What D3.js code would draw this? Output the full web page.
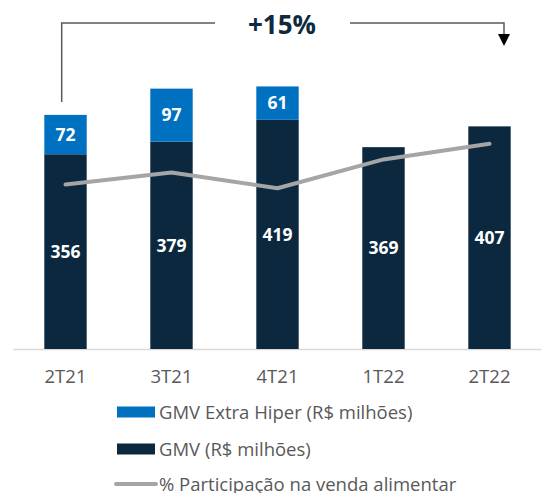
<!DOCTYPE html>
<html>
<head>
<meta charset="utf-8">
<script src="https://cdn.jsdelivr.net/npm/d3@7"></script>
<style>
  body { margin: 0; background: #fff; }
  svg { display: block; font-family: "Open Sans", sans-serif; }
</style>
</head>
<body>
<div id="chart"></div>
<script>
// quarters and values
var quarters = ["2T21", "3T21", "4T21", "1T22", "2T22"];
var gmv = [356, 379, 419, 369, 407];
var gmvExtra = [72, 97, 61, 0, 0];
var participacao = [13.7, 14.7, 13.4, 15.8, 17.1]; // % (no labels in source)
var legendLabels = ["GMV Extra Hiper (R$ milhões)", "GMV (R$ milhões)", "% Participação na venda alimentar"];
var growthLabel = "+15%";

var width = 541, height = 493;
var baseY = 349;

var svg = d3.select("#chart")
  .append("svg")
  .attr("width", width)
  .attr("height", height);

svg.append("rect").attr("width", width).attr("height", height).attr("fill", "#fff");

var x = d3.scaleBand()
  .domain(quarters)
  .range([12.5, 542.5])
  .paddingInner(0.6)
  .paddingOuter(0.3);

var y = d3.scaleLinear()
  .domain([0, 600])
  .range([baseY, baseY - 600 * 0.547]);

// secondary scale for the share line
var y2 = d3.scaleLinear()
  .domain([0, 25])
  .range([baseY, baseY - 300]);

var rows = quarters.map(function (q, i) {
  return { q: q, gmv: gmv[i], extra: gmvExtra[i], share: participacao[i] };
});

// axis
var xAxis = svg.append("g")
  .attr("transform", "translate(0," + baseY + ")")
  .call(d3.axisBottom(x).tickSize(0).tickPadding(21));
xAxis.select(".domain").attr("stroke", "#d9d9d9").attr("stroke-width", 1.5);
xAxis.selectAll("text")
  .attr("fill", "#595959")
  .style("font-family", "'Open Sans', sans-serif")
  .style("font-size", "18.5px");

// dark bars
svg.selectAll("rect.gmv")
  .data(rows)
  .enter()
  .append("rect")
  .attr("class", "gmv")
  .attr("x", function (d) { return x(d.q); })
  .attr("y", function (d) { return y(d.gmv); })
  .attr("width", x.bandwidth())
  .attr("height", function (d) { return y(0) - y(d.gmv); })
  .attr("fill", "#0b283f");

// blue stacked part
svg.selectAll("rect.extra")
  .data(rows.filter(function (d) { return d.extra > 0; }))
  .enter()
  .append("rect")
  .attr("class", "extra")
  .attr("x", function (d) { return x(d.q); })
  .attr("y", function (d) { return y(d.gmv + d.extra); })
  .attr("width", x.bandwidth())
  .attr("height", function (d) { return y(d.gmv) - y(d.gmv + d.extra); })
  .attr("fill", "#0070c0");

// share line
var line = d3.line()
  .x(function (d) { return x(d.q) + x.bandwidth() / 2; })
  .y(function (d) { return y2(d.share); });

svg.append("path")
  .datum(rows)
  .attr("d", line)
  .attr("fill", "none")
  .attr("stroke", "#a5a5a5")
  .attr("stroke-width", 4)
  .attr("stroke-linecap", "round")
  .attr("stroke-linejoin", "round");

// value labels
svg.selectAll("text.gmvLabel")
  .data(rows)
  .enter()
  .append("text")
  .attr("x", function (d) { return x(d.q) + x.bandwidth() / 2; })
  .attr("y", function (d) { return (y(0) + y(d.gmv)) / 2; })
  .attr("dy", "0.36em")
  .attr("text-anchor", "middle")
  .attr("fill", "#fff")
  .style("font-weight", "bold")
  .style("font-size", "17.5px")
  .text(function (d) { return d.gmv; });

svg.selectAll("text.extraLabel")
  .data(rows.filter(function (d) { return d.extra > 0; }))
  .enter()
  .append("text")
  .attr("x", function (d) { return x(d.q) + x.bandwidth() / 2; })
  .attr("y", function (d) { return (y(d.gmv) + y(d.gmv + d.extra)) / 2; })
  .attr("dy", "0.36em")
  .attr("text-anchor", "middle")
  .attr("fill", "#fff")
  .style("font-weight", "bold")
  .style("font-size", "17.5px")
  .text(function (d) { return d.extra; });

// growth bracket
var x0 = 61.7, x1 = 504, topY = 23;
svg.append("path")
  .attr("d", "M" + x0 + ",102 L" + x0 + "," + topY + " L215," + topY)
  .attr("fill", "none")
  .attr("stroke", "#595959")
  .attr("stroke-width", 1.5);
svg.append("path")
  .attr("d", "M350," + topY + " L" + x1 + "," + topY + " L" + x1 + ",36")
  .attr("fill", "none")
  .attr("stroke", "#595959")
  .attr("stroke-width", 1.5);
svg.append("path")
  .attr("d", "M" + (x1 - 6) + ",34 L" + (x1 + 6) + ",34 L" + x1 + ",46 Z")
  .attr("fill", "#000");
svg.append("text")
  .attr("x", 282)
  .attr("y", 33.5)
  .attr("text-anchor", "middle")
  .attr("fill", "#0d2a40")
  .style("font-weight", "bold")
  .style("font-size", "26px")
  .text(growthLabel);

// legend
var legend = svg.append("g").attr("transform", "translate(117,0)");
var legendY = [412, 449, 484];
legend.append("rect").attr("x", 0).attr("y", legendY[0] - 5.5).attr("width", 38).attr("height", 11).attr("fill", "#0070c0");
legend.append("rect").attr("x", 0).attr("y", legendY[1] - 5.5).attr("width", 38).attr("height", 11).attr("fill", "#0b283f");
legend.append("line").attr("x1", -1).attr("x2", 39).attr("y1", legendY[2]).attr("y2", legendY[2])
  .attr("stroke", "#a5a5a5").attr("stroke-width", 4).attr("stroke-linecap", "round");
legend.selectAll("text")
  .data(legendLabels)
  .enter()
  .append("text")
  .attr("x", 42)
  .attr("y", function (d, i) { return legendY[i]; })
  .attr("dy", "0.36em")
  .attr("fill", "#595959")
  .style("font-size", "18.5px")
  .text(function (d) { return d; });
</script>
</body>
</html>
